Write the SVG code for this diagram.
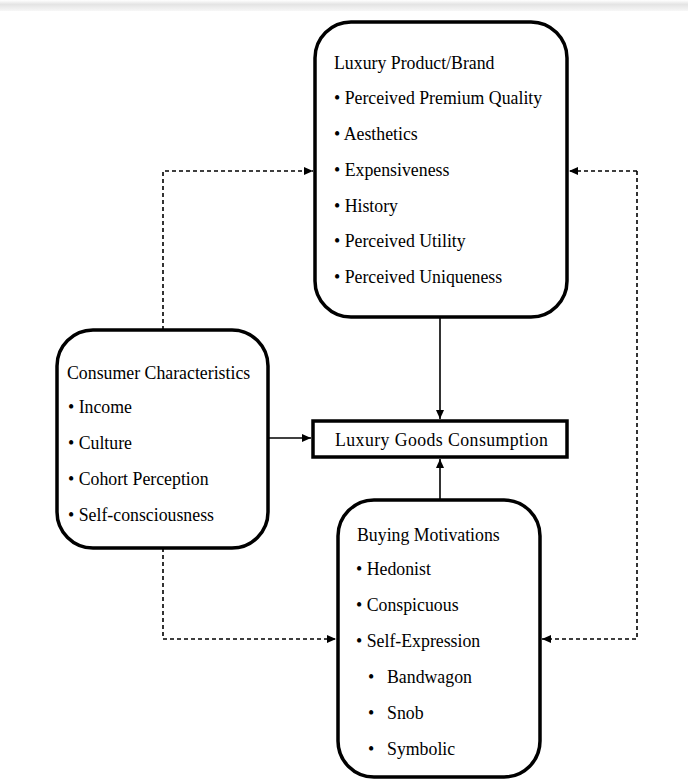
<svg xmlns="http://www.w3.org/2000/svg" width="688" height="779" viewBox="0 0 688 779">
<style>
.box{fill:#fff;stroke:#000;stroke-width:3.5}
.t{font-family:"Liberation Serif","Times New Roman",serif;font-size:17.8px;fill:#000}
.solid{fill:none;stroke:#000;stroke-width:1.6}
.dash{fill:none;stroke:#000;stroke-width:1.6;stroke-dasharray:4 3}
</style>
<defs>
<linearGradient id="bar" x1="0" y1="0" x2="0" y2="1">
<stop offset="0" stop-color="#fff"/>
<stop offset="0.4" stop-color="#e4e4e4"/>
<stop offset="1" stop-color="#f7f7f7"/>
</linearGradient>
<marker id="ah" markerWidth="10" markerHeight="10" refX="9" refY="5" orient="auto" markerUnits="userSpaceOnUse">
<path d="M0,1 L9,5 L0,9 Z" fill="#000"/>
</marker>
</defs>
<rect x="0" y="0" width="688" height="779" fill="#fff"/>
<rect x="0" y="0" width="688" height="11" fill="url(#bar)"/>
<g id="connectors">
<path class="solid" d="M440,317 V419" marker-end="url(#ah)"/>
<path class="solid" d="M440,500 V459" marker-end="url(#ah)"/>
<path class="solid" d="M268,438 H311" marker-end="url(#ah)"/>
<path class="dash" d="M163,330 V171 H313" marker-end="url(#ah)"/>
<path class="dash" d="M163,548 V639 H336" marker-end="url(#ah)"/>
<path class="dash" d="M637,171 H569" marker-end="url(#ah)"/>
<path class="dash" d="M637,171 V639 H542" marker-end="url(#ah)"/>
</g>
<g id="luxury-product">
<rect class="box" x="315" y="22" width="252" height="295" rx="36"/>
<text class="t" x="334" y="69">Luxury  Product/Brand</text>
<text class="t" x="334" y="104">• Perceived Premium Quality</text>
<text class="t" x="334" y="140">• Aesthetics</text>
<text class="t" x="334" y="176">• Expensiveness</text>
<text class="t" x="334" y="212">• History</text>
<text class="t" x="334" y="247">• Perceived Utility</text>
<text class="t" x="334" y="283">• Perceived Uniqueness</text>
</g>
<g id="consumer-characteristics">
<rect class="box" x="57" y="330" width="211" height="218" rx="36"/>
<text class="t" x="67" y="379">Consumer Characteristics</text>
<text class="t" x="68" y="413">• Income</text>
<text class="t" x="68" y="449">• Culture</text>
<text class="t" x="68" y="485">• Cohort  Perception</text>
<text class="t" x="68" y="521">• Self-consciousness</text>
</g>
<g id="luxury-goods-consumption">
<rect class="box" x="313" y="421" width="254" height="36"/>
<text class="t" x="335" y="446" textLength="213" lengthAdjust="spacing">Luxury  Goods  Consumption</text>
</g>
<g id="buying-motivations">
<rect class="box" x="338" y="500" width="202" height="277" rx="36"/>
<text class="t" x="357" y="541">Buying Motivations</text>
<text class="t" x="356" y="575">• Hedonist</text>
<text class="t" x="356" y="611">• Conspicuous</text>
<text class="t" x="356" y="647">• Self-Expression</text>
<text class="t" y="683"><tspan x="368">•</tspan><tspan x="387">Bandwagon</tspan></text>
<text class="t" y="719"><tspan x="368">•</tspan><tspan x="387">Snob</tspan></text>
<text class="t" y="755"><tspan x="368">•</tspan><tspan x="387">Symbolic</tspan></text>
</g>
</svg>
